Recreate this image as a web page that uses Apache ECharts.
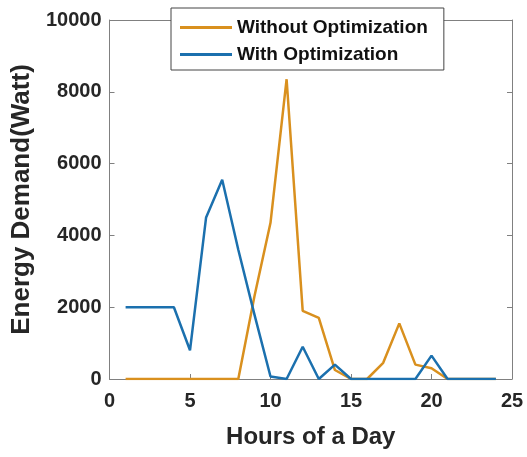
<!DOCTYPE html>
<html>
<head>
<meta charset="utf-8">
<script src="https://cdn.jsdelivr.net/npm/echarts@6/dist/echarts.min.js"></script>
<style>html,body{margin:0;padding:0;background:#fff}#c{width:527px;height:457px}</style>
</head>
<body>
<div id="c"></div>
<script>
const hours = [1,2,3,4,5,6,7,8,9,10,11,12,13,14,15,16,17,18,19,20,21,22,23,24];
const withoutOpt = [0,0,0,0,0,0,0,0,2300,4350,8350,1900,1700,250,0,0,450,1550,400,300,0,0,0,0];
const withOpt = [2000,2000,2000,2000,800,4500,5550,3600,1800,70,0,900,0,400,0,0,0,0,0,650,0,0,0,0];
const seriesNames = ['Without Optimization','With Optimization'];
const xTitle = 'Hours of a Day';
const yTitle = 'Energy Demand(Watt)';

const FONT = '"Liberation Sans", Arial, sans-serif';
const axisCol = '#808080';
const txtCol = '#262626';
const chart = echarts.init(document.getElementById('c'));
const pair = arr => hours.map((h,i)=>[h, arr[i]]);
const baseAxis = () => ({
  axisLine:{show:true,onZero:false,lineStyle:{color:axisCol,width:1}},
  axisTick:{show:true,inside:true,length:5,lineStyle:{color:axisCol}},
  splitLine:{show:false}
});
chart.setOption({
  animation:false,
  backgroundColor:'#fff',
  grid:{left:109.5,right:15,top:20,bottom:78,containLabel:false},
  legend:{
    orient:'vertical', left:171, top:8,
    padding:[10,16,6,9], itemGap:8, itemWidth:52, itemHeight:20, itemTextGap:3,
    backgroundColor:'#fff', borderColor:'#444', borderWidth:1,
    textStyle:{fontFamily:FONT,fontWeight:'bold',fontSize:19,color:'#111'},
    data:seriesNames.map(n=>({name:n,icon:'path://M0,0 L52,0 L52,3 L0,3 Z'}))
  },
  xAxis:[
    Object.assign(baseAxis(),{type:'value',min:0,max:25,interval:5,position:'bottom',
      name:xTitle,nameLocation:'middle',nameGap:46,
      nameTextStyle:{fontFamily:FONT,fontWeight:'bold',fontSize:24,color:txtCol},
      axisLabel:{fontFamily:FONT,fontWeight:'bold',fontSize:20,color:txtCol,margin:12,formatter:v=>String(v)}}),
    Object.assign(baseAxis(),{type:'value',min:0,max:25,interval:5,position:'top',axisLabel:{show:false}})
  ],
  yAxis:[
    Object.assign(baseAxis(),{type:'value',min:0,max:10000,interval:2000,position:'left',
      name:yTitle,nameLocation:'middle',nameGap:70,
      nameTextStyle:{fontFamily:FONT,fontWeight:'bold',fontSize:26,color:txtCol},
      axisLabel:{fontFamily:FONT,fontWeight:'bold',fontSize:20,color:txtCol,margin:8,formatter:v=>String(v)}}),
    Object.assign(baseAxis(),{type:'value',min:0,max:10000,interval:2000,position:'right',axisLabel:{show:false}})
  ],
  series:[
    {name:seriesNames[0],type:'line',data:pair(withoutOpt),showSymbol:false,
      lineStyle:{color:'#D9901E',width:2.5},itemStyle:{color:'#D9901E'}},
    {name:seriesNames[1],type:'line',data:pair(withOpt),showSymbol:false,
      lineStyle:{color:'#1B70AE',width:2.5},itemStyle:{color:'#1B70AE'}}
  ]
});
</script>
</body>
</html>
